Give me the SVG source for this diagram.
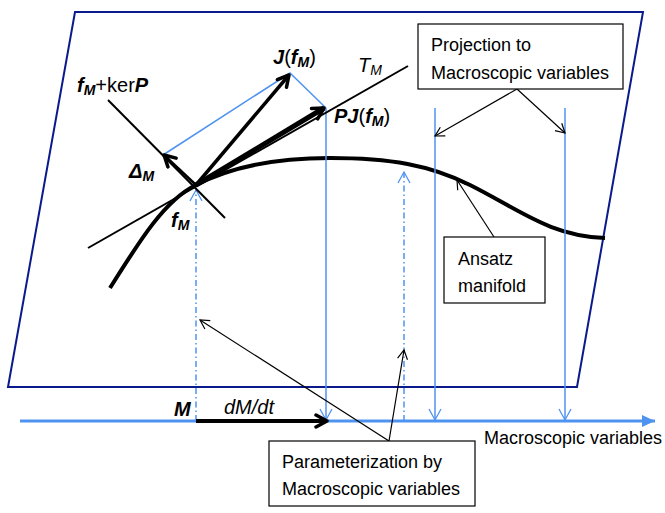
<svg xmlns="http://www.w3.org/2000/svg" width="665" height="513" viewBox="0 0 665 513">
<defs>
<style>
text{font-family:"Liberation Sans","Open Sans",sans-serif;font-size:18px;fill:#000}
.lb{font-size:20px}
.bi{font-weight:bold;font-style:italic}
.it{font-style:italic}
.sub{font-size:14px}
.box{fill:#fff;stroke:#000;stroke-width:1.2}
.blue{stroke:#4f93f0;fill:none;stroke-width:1.5}
.dash{stroke:#4f93f0;fill:none;stroke-width:1.5;stroke-dasharray:6 3 1.5 3}
.thin{stroke:#000;stroke-width:1.2;fill:none}
</style>
<marker id="open" markerWidth="12" markerHeight="12" refX="10" refY="6" orient="auto" markerUnits="userSpaceOnUse"><path d="M1,1 L10,6 L1,11" fill="none" stroke="#000" stroke-width="1.2"/></marker>
<marker id="openb" markerWidth="14" markerHeight="14" refX="12" refY="7" orient="auto" markerUnits="userSpaceOnUse"><path d="M1,1 L12,7 L1,13" fill="none" stroke="#4f93f0" stroke-width="1.3"/></marker>
<marker id="bold" markerWidth="16" markerHeight="16" refX="13" refY="8" orient="auto" markerUnits="userSpaceOnUse"><path d="M2,2 L13,8 L2,14" fill="none" stroke="#000" stroke-width="3.5" stroke-linecap="round" stroke-linejoin="round"/></marker>
<marker id="axis" markerWidth="14" markerHeight="12" refX="13" refY="6" orient="auto" markerUnits="userSpaceOnUse"><path d="M0,0 L13,6 L0,12 Z" fill="#4f93f0"/></marker>
</defs>
<g id="plane"><polygon points="75,12 643,12 577,387 8,387" fill="none" stroke="#0a1a8c" stroke-width="2"/></g>
<g id="axis-line"><line x1="20" y1="421" x2="655" y2="421" stroke="#4f93f0" stroke-width="3" marker-end="url(#axis)"/>
<text x="484" y="444">Macroscopic variables</text></g>
<g id="manifold"><path d="M110,288 C140,240 165,200 196,185 C240,162 290,158 330,158 C390,158 430,165 470,185 C520,210 550,236 605,238" fill="none" stroke="#000" stroke-width="4"/></g>
<g id="connectors">
<line class="dash" x1="196" y1="421" x2="196" y2="190" marker-end="url(#openb)"/>
<line class="dash" x1="404" y1="421" x2="404" y2="172" marker-end="url(#openb)"/>
<line class="blue" x1="326" y1="108" x2="326" y2="420" marker-end="url(#openb)"/>
<line class="blue" x1="435" y1="108" x2="435" y2="420" marker-end="url(#openb)"/>
<line class="blue" x1="565" y1="108" x2="565" y2="420" marker-end="url(#openb)"/>
<polyline class="blue" points="163,155 290,73 326,108"/>
<line x1="88" y1="248" x2="408" y2="66" stroke="#000" stroke-width="2"/>
<line x1="108" y1="100" x2="225" y2="218" stroke="#000" stroke-width="2"/>
<line x1="196" y1="185" x2="164" y2="155" stroke="#000" stroke-width="2.5" marker-end="url(#bold)"/>
<line x1="196" y1="185" x2="289" y2="75" stroke="#000" stroke-width="3.5" marker-end="url(#bold)"/>
<line x1="196" y1="185" x2="324" y2="108" stroke="#000" stroke-width="5" marker-end="url(#bold)"/>
<line x1="196" y1="421" x2="327" y2="421" stroke="#000" stroke-width="4" marker-end="url(#bold)"/>
<line class="thin" x1="517" y1="89" x2="435" y2="136" marker-end="url(#open)"/>
<line class="thin" x1="517" y1="89" x2="565" y2="133" marker-end="url(#open)"/>
<line class="thin" x1="494" y1="237" x2="457" y2="180" marker-end="url(#open)"/>
<line class="thin" x1="389" y1="441" x2="200" y2="320" marker-end="url(#open)"/>
<line class="thin" x1="389" y1="441" x2="404" y2="350" marker-end="url(#open)"/>
</g>
<g id="labels">
<text x="77" y="92" class="lb"><tspan class="bi">f</tspan><tspan class="bi sub" dy="3">M</tspan><tspan dy="-3">+ker</tspan><tspan class="bi">P</tspan></text>
<text x="129" y="178" class="lb bi">Δ<tspan class="sub" dy="3">M</tspan></text>
<text x="171" y="227" class="lb bi">f<tspan class="sub" dy="3">M</tspan></text>
<text x="273" y="64" class="lb"><tspan class="bi">J</tspan>(<tspan class="bi">f</tspan><tspan class="bi sub" dy="3">M</tspan><tspan dy="-3">)</tspan></text>
<text x="358" y="72" class="lb it">T<tspan class="sub" dy="3">M</tspan></text>
<text x="334" y="123" class="lb"><tspan class="bi">PJ</tspan>(<tspan class="bi">f</tspan><tspan class="bi sub" dy="3">M</tspan><tspan dy="-3">)</tspan></text>
<text x="174" y="416" class="lb bi">M</text>
<text x="224" y="414" class="lb it">dM/dt</text>
</g>
<g id="box-projection"><rect class="box" x="418" y="24" width="205" height="65"/>
<text x="431" y="51">Projection to</text><text x="431" y="79">Macroscopic variables</text></g>
<g id="box-ansatz"><rect class="box" x="444" y="237" width="101" height="66"/>
<text x="458" y="265">Ansatz</text><text x="458" y="292">manifold</text></g>
<g id="box-param"><rect class="box" x="269" y="441" width="206" height="65"/>
<text x="282" y="468">Parameterization by</text><text x="282" y="495">Macroscopic variables</text></g>
</svg>
